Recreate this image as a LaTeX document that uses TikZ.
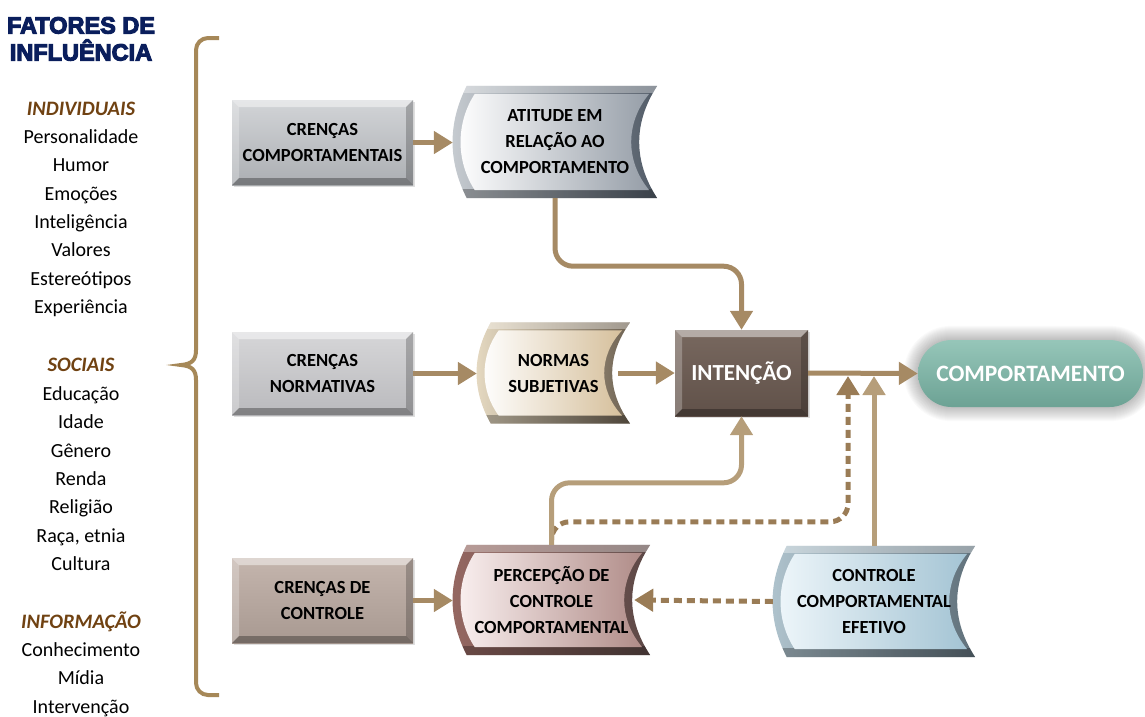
\documentclass[tikz,border=0pt]{standalone}
\usepackage{fontspec}
\setmainfont{Carlito}
\newfontfamily\titlefont{Liberation Sans}
% heavier title lettering: fill and stroke the glyph outlines
\newcommand\heavytext[1]{\special{pdf:literal direct 2 Tr 1.1 w}#1\special{pdf:literal direct 0 Tr}}
\usetikzlibrary{arrows.meta,calc,backgrounds,shadows}

\definecolor{arrowtan}{RGB}{166,138,100}
\definecolor{arrowup}{RGB}{182,158,122}
\definecolor{dashtan}{RGB}{154,124,86}
\definecolor{bracetan}{RGB}{166,136,88}
\definecolor{navy}{RGB}{10,30,92}
\definecolor{headbrown}{RGB}{112,66,18}
% rectangular boxes
\definecolor{grayA}{RGB}{210,212,215}
\definecolor{grayB}{RGB}{172,175,179}
\definecolor{greyA}{RGB}{214,214,216}
\definecolor{greyB}{RGB}{186,186,189}
\definecolor{taupeA}{RGB}{196,181,173}
\definecolor{taupeB}{RGB}{168,153,145}
\definecolor{brownA}{RGB}{120,104,95}
\definecolor{brownB}{RGB}{96,81,73}
\definecolor{tealA}{RGB}{150,198,185}
\definecolor{tealB}{RGB}{108,162,148}
% curved boxes
\definecolor{slateL}{RGB}{200,205,210}
\definecolor{slateR}{RGB}{80,90,102}
\definecolor{slateI}{RGB}{150,158,168}
\definecolor{creamL}{RGB}{232,220,196}
\definecolor{creamR}{RGB}{110,98,82}
\definecolor{creamI}{RGB}{214,192,156}
\definecolor{roseL}{RGB}{150,104,98}
\definecolor{roseR}{RGB}{92,72,70}
\definecolor{roseW}{RGB}{250,240,240}
\definecolor{roseI}{RGB}{176,140,136}
\definecolor{iceL}{RGB}{176,196,206}
\definecolor{iceR}{RGB}{96,112,122}
\definecolor{iceW}{RGB}{238,246,250}
\definecolor{iceI}{RGB}{164,196,212}

\newcommand\boxfont{\fontsize{18.5}{26}\selectfont\bfseries}

% light and dark bevel bands inside a rectangular node
\newcommand\bevelfaces[1]{%
  \fill[white,opacity=.45] (path picture bounding box.north west) -- (path picture bounding box.north east)
    -- ([shift={(-#1,-#1)}]path picture bounding box.north east) -- ([shift={(#1,-#1)}]path picture bounding box.north west) -- cycle;
  \fill[white,opacity=.25] (path picture bounding box.north west) -- ([shift={(#1,-#1)}]path picture bounding box.north west)
    -- ([shift={(#1,#1)}]path picture bounding box.south west) -- (path picture bounding box.south west) -- cycle;
  \fill[black,opacity=.30] (path picture bounding box.south west) -- ([shift={(#1,#1)}]path picture bounding box.south west)
    -- ([shift={(-#1,#1)}]path picture bounding box.south east) -- (path picture bounding box.south east) -- cycle;
  \fill[black,opacity=.22] (path picture bounding box.north east) -- (path picture bounding box.south east)
    -- ([shift={(-#1,#1)}]path picture bounding box.south east) -- ([shift={(-#1,-#1)}]path picture bounding box.north east) -- cycle;
}

% outline of a curved box around node #1, inset by #2 pt
\newcommand\wavepath[2]{%
  ($(#1.north west)+(14pt+#2pt,-#2pt)$) -- ($(#1.north east)+(-#2pt,-#2pt)$)
  .. controls ($(#1.north east)!.33!(#1.south east)+(-24pt-#2pt,0pt)$) and ($(#1.north east)!.67!(#1.south east)+(-24pt-#2pt,0pt)$)
  .. ($(#1.south east)+(-#2pt,#2pt)$)
  -- ($(#1.south west)+(14pt+#2pt,#2pt)$)
  .. controls ($(#1.south west)!.33!(#1.north west)+(-5pt+#2pt,0pt)$) and ($(#1.south west)!.67!(#1.north west)+(-5pt+#2pt,0pt)$)
  .. cycle}

% curved box body: outer frame colours #2,#3, face colours #4,#5
\newcommand\wavebox[5]{%
  \shade[left color=#2, right color=#3] \wavepath{#1}{0};
  \begin{scope}
    \clip \wavepath{#1}{0};
    \fill[black,opacity=.28] ($(#1.south west)+(-20pt,9pt)$) rectangle ($(#1.south east)+(20pt,-5pt)$);
    \fill[white,opacity=.35] ($(#1.north west)+(-20pt,-7pt)$) rectangle ($(#1.north east)+(20pt,5pt)$);
  \end{scope}
  \shade[left color=#4, right color=#5] \wavepath{#1}{8};
}

\begin{document}
\begin{tikzpicture}[x=1pt,y=-1pt,
  ttl/.style={font=\titlefont\bfseries\fontsize{23.5}{26}\selectfont, text=navy, anchor=base, inner sep=0pt},
  head/.style={font=\fontsize{20.5}{24}\selectfont\bfseries\itshape, text=headbrown, anchor=base, inner sep=0pt},
  item/.style={font=\fontsize{20}{24}\selectfont, text=black, anchor=base, inner sep=0pt},
  rbox/.style={rectangle, inner sep=0pt, align=center, font=\boxfont, path picture={\bevelfaces{7pt}},
    drop shadow={shadow xshift=2pt, shadow yshift=-2pt, opacity=.25}},
  wbox/.style={rectangle, inner sep=0pt, align=center, font=\boxfont},
  brace/.style={draw=bracetan, line width=4pt},
  arr/.style={draw=arrowtan, line width=5pt, -{Triangle[length=19pt,width=22pt]}},
  arrup/.style={arr, draw=arrowup},
  dasharr/.style={arr, draw=dashtan, dash pattern=on 8pt off 5pt},
]
\useasboundingbox (0,0) rectangle (1145,716);

% heading
\node[ttl] (ttl1) at (81,33.5) {\heavytext{FATORES DE}};
\node[ttl] (ttl2) at (81,60.5) {\heavytext{INFLUÊNCIA}};

% factor lists
\node[head] (hind) at (81,115) {INDIVIDUAIS};
\foreach \t [count=\i] in {Personalidade,Humor,Emoções,Inteligência,Valores,Estereótipos,Experiência}
  \node[item] (ind\i) at (81,{143.5+28.33*(\i-1)}) {\t};
\node[head] (hsoc) at (81,371) {SOCIAIS};
\foreach \t [count=\i] in {Educação,Idade,Gênero,Renda,Religião,{Raça, etnia},Cultura}
  \node[item] (soc\i) at (81,{400.5+28.33*(\i-1)}) {\t};
\node[head] (hinf) at (81,628) {INFORMAÇÃO};
\foreach \t [count=\i] in {Conhecimento,Mídia,Intervenção}
  \node[item] (inf\i) at (81,{656.5+28.33*(\i-1)}) {\t};

% curly brace
\draw[brace] (219,38) [rounded corners=12pt] -- (196,38) -- (196,200) [sharp corners] -- (196,350)
  .. controls (196,360) and (192,364) .. (181,365)
  .. controls (192,366) and (196,370) .. (196,380) -- (196,520) [rounded corners=12pt] -- (196,695) -- (219,695);

% belief boxes
\node[rbox, top color=grayA, bottom color=grayB, minimum width=181pt, minimum height=85pt] (cb) at (322.5,142.5) {CRENÇAS\\COMPORTAMENTAIS};
\node[rbox, top color=greyA, bottom color=greyB, minimum width=181pt, minimum height=83pt] (cn) at (322.5,373.5) {CRENÇAS\\NORMATIVAS};
\node[rbox, top color=taupeA, bottom color=taupeB, minimum width=181pt, minimum height=85pt] (cc) at (322.5,600.5) {CRENÇAS DE\\CONTROLE};

% curved boxes (text nodes; bodies on the background layer)
\node[wbox, minimum width=204pt, minimum height=112pt] (att) at (555,142) {ATITUDE EM\\RELAÇÃO AO\\COMPORTAMENTO};
\node[wbox, minimum width=153pt, minimum height=101pt] (ns) at (553.5,373) {NORMAS\\SUBJETIVAS};
\node[wbox, minimum width=197pt, minimum height=110pt] (pc) at (551.5,600) {PERCEPÇÃO DE\\CONTROLE\\COMPORTAMENTAL};
\node[wbox, minimum width=202pt, minimum height=111pt] (ce) at (874,601.5) {CONTROLE\\COMPORTAMENTAL\\EFETIVO};

% intention and behaviour
\node[rbox, top color=brownA, bottom color=brownB, minimum width=133pt, minimum height=86pt, text=white,
  font=\fontsize{23}{28}\selectfont\bfseries] (int) at (741.5,373) {INTENÇÃO};
\node[rectangle, rounded corners=33.5pt, top color=tealA, bottom color=tealB, inner sep=0pt,
  minimum width=225pt, minimum height=67pt, text=white, font=\fontsize{23.5}{28}\selectfont\bfseries] (cmp) at (1030.5,373.5) {COMPORTAMENTO};

\begin{scope}[on background layer]
  \wavebox{att}{slateL}{slateR}{white}{slateI}
  \wavebox{ns}{creamL}{creamR}{white}{creamI}
  \wavebox{pc}{roseL}{roseR}{roseW}{roseI}
  \wavebox{ce}{iceL}{iceR}{iceW}{iceI}
  % soft glow around the behaviour pill
  \foreach \k in {1,...,14}
    \fill[black,opacity=.018,rounded corners={33.5pt+\k*1pt}]
      ([shift={(-\k*1pt,\k*1pt)}]cmp.north west) rectangle ([shift={(\k*1pt,-\k*1pt)}]cmp.south east);
\end{scope}

% junctions on the intention line
\coordinate (j1) at (848,376);
\coordinate (j2) at (874,376);

% connectors
\draw[arr] (cb.east) -- (cb.east -| att.west);
\draw[arr] (cn.east) -- (cn.east -| ns.west);
\draw[arr] (cc.east) -- (cc.east -| pc.west);
\draw[arr] ([xshift=-12pt]ns.east) -- (int.west);
\draw[arr] (int.east) -- (cmp.west);
\draw[arr, rounded corners=18pt] (att.south) -- ([yshift=-68pt]att.south) -| (int.north);
\draw[dasharr, rounded corners=18pt] ([yshift=12pt]pc.north) -- ([yshift=23pt]pc.north) -| (j1);
\draw[arrup, rounded corners=18pt] (pc.north) -- ([yshift=62pt]pc.north) -| (int.south);
\draw[arrup] (ce.north) -- (j2);
\draw[dasharr] (ce.west) -- ([xshift=-16pt]pc.east);
\end{tikzpicture}
\end{document}
